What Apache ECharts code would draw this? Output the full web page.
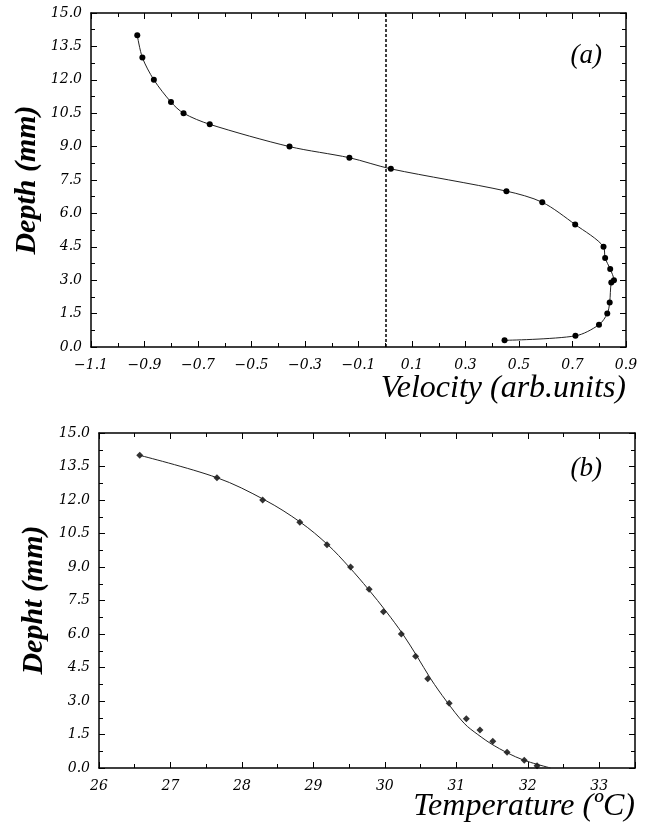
<!DOCTYPE html>
<html>
<head>
<meta charset="utf-8">
<script src="https://cdn.jsdelivr.net/npm/echarts@6/dist/echarts.min.js"></script>
<style>html,body{margin:0;padding:0;background:#fff;}#c{width:653px;height:829px;}</style>
</head>
<body>
<div id="c"></div>
<script>
// ---- Panel (a): velocity profile ----
const velX = [0.446, 0.711, 0.799, 0.830, 0.839, 0.845, 0.855, 0.841, 0.822, 0.816, 0.710, 0.587, 0.453, 0.021, -0.134, -0.358, -0.656, -0.754, -0.801, -0.865, -0.908, -0.927];
const velDepth = [0.3, 0.5, 1.0, 1.5, 2.0, 2.9, 3.0, 3.5, 4.0, 4.5, 5.5, 6.5, 7.0, 8.0, 8.5, 9.0, 10.0, 10.5, 11.0, 12.0, 13.0, 14.0];
const velZeroLine = 0;

// ---- Panel (b): temperature profile ----
const tempX = [26.57, 27.65, 28.29, 28.81, 29.19, 29.52, 29.78, 29.98, 30.23, 30.43, 30.60, 30.90, 31.14, 31.33, 31.51, 31.71, 31.95, 32.13];
const tempDepth = [14, 13, 12, 11, 10, 9, 8, 7, 6, 5, 4, 2.9, 2.2, 1.7, 1.2, 0.7, 0.35, 0.1];
const fitTemp = [26.57, 27.65, 28.32, 28.82, 29.20, 29.50, 29.77, 30.02, 30.25, 30.45, 30.64, 30.86, 31.11, 31.30, 31.53, 31.83, 32.04, 32.32];
const fitDepth = [14, 13, 12, 11, 10, 9, 8, 7, 6, 5, 4, 3, 2, 1.5, 1, 0.5, 0.25, 0];

// ---- Axis settings ----
const velTicks = {min: -1.1, max: 0.9, interval: 0.2};
const tempTicks = {min: 26, max: 33.5, interval: 1};
const depthTicks = {min: 0, max: 15, interval: 1.5};

const labelFont = {fontFamily: 'DejaVu Serif', fontStyle: 'italic', fontSize: 14, color: '#000'};
const axisLineStyle = {show: true, onZero: false, lineStyle: {color: '#000', width: 1.5}};

function xAx(grid, t, pos, showLabel, fmt) {
  return {
    type: 'value', gridIndex: grid, position: pos, min: t.min, max: t.max, interval: t.interval,
    axisLine: axisLineStyle,
    axisTick: {show: true, inside: true, length: 6, lineStyle: {color: '#000', width: 1}},
    minorTick: {show: true, splitNumber: 2, length: 4, lineStyle: {color: '#000', width: 1}},
    splitLine: {show: false},
    axisLabel: Object.assign({show: showLabel, margin: 11, formatter: fmt, showMinLabel: true, showMaxLabel: true}, labelFont)
  };
}
function yAx(grid, t, pos, showLabel) {
  return {
    type: 'value', gridIndex: grid, position: pos, min: t.min, max: t.max, interval: t.interval,
    axisLine: axisLineStyle,
    axisTick: {show: true, inside: true, length: 6, lineStyle: {color: '#000', width: 1}},
    minorTick: {show: true, splitNumber: 2, length: 4, lineStyle: {color: '#000', width: 1}},
    splitLine: {show: false},
    axisLabel: Object.assign({show: showLabel, margin: 9, formatter: v => Number(v).toFixed(1)}, labelFont)
  };
}
const velFmt = v => { const s = Number(v).toFixed(1); return s.replace('-', '\u2212'); };
const tempFmt = v => (Math.abs(v - Math.round(v)) < 1e-6 ? String(Math.round(v)) : '');

const chart = echarts.init(document.getElementById('c'), null, {renderer: 'canvas'});
chart.setOption({
  animation: false,
  backgroundColor: '#fff',
  grid: [
    {left: 91, top: 13, width: 535, height: 334},
    {left: 99, top: 433, width: 536, height: 335}
  ],
  xAxis: [
    xAx(0, velTicks, 'bottom', true, velFmt),
    xAx(0, velTicks, 'top', false, velFmt),
    xAx(1, tempTicks, 'bottom', true, tempFmt),
    xAx(1, tempTicks, 'top', false, tempFmt)
  ],
  yAxis: [
    yAx(0, depthTicks, 'left', true),
    yAx(0, depthTicks, 'right', false),
    yAx(1, depthTicks, 'left', true),
    yAx(1, depthTicks, 'right', false)
  ],
  series: [
    {
      type: 'line', xAxisIndex: 0, yAxisIndex: 0,
      data: velX.map((x, i) => [x, velDepth[i]]),
      smooth: 0.3,
      symbol: 'circle', symbolSize: 6,
      itemStyle: {color: '#000'},
      lineStyle: {color: '#222', width: 1},
      markLine: {
        silent: true, symbol: ['none', 'none'], label: {show: false},
        lineStyle: {color: '#000', width: 1.5, type: [3, 2]},
        data: [{xAxis: velZeroLine}]
      }
    },
    {
      type: 'line', xAxisIndex: 2, yAxisIndex: 2,
      data: fitTemp.map((x, i) => [x, fitDepth[i]]),
      smooth: 0.35, showSymbol: false,
      lineStyle: {color: '#222', width: 1}
    },
    {
      type: 'scatter', xAxisIndex: 2, yAxisIndex: 2,
      data: tempX.map((x, i) => [x, tempDepth[i]]),
      symbol: 'diamond', symbolSize: 7,
      itemStyle: {color: '#000'}
    }
  ],
  graphic: [
    {type: 'text', x: 602, y: 56, style: {text: '(a)', font: 'italic 27px "Liberation Serif"', fill: '#000', align: 'right', verticalAlign: 'middle', textAlign: 'right', textVerticalAlign: 'middle'}},
    {type: 'text', x: 602, y: 469, style: {text: '(b)', font: 'italic 27px "Liberation Serif"', fill: '#000', align: 'right', verticalAlign: 'middle', textAlign: 'right', textVerticalAlign: 'middle'}},
    {type: 'text', x: 626, y: 389, style: {text: 'Velocity (arb.units)', font: 'italic 32px "Liberation Serif"', fill: '#000', align: 'right', verticalAlign: 'middle', textAlign: 'right', textVerticalAlign: 'middle'}},
    {type: 'text', x: 635, y: 807, style: {text: 'Temperature (\u00BAC)', font: 'italic 32px "Liberation Serif"', fill: '#000', align: 'right', verticalAlign: 'middle', textAlign: 'right', textVerticalAlign: 'middle'}},
    {type: 'text', x: 27, y: 180, rotation: Math.PI / 2, style: {text: 'Depth (mm)', font: 'italic bold 30px "Liberation Serif"', fill: '#000', align: 'center', verticalAlign: 'middle', textAlign: 'center', textVerticalAlign: 'middle'}},
    {type: 'text', x: 34, y: 600, rotation: Math.PI / 2, style: {text: 'Depht (mm)', font: 'italic bold 30px "Liberation Serif"', fill: '#000', align: 'center', verticalAlign: 'middle', textAlign: 'center', textVerticalAlign: 'middle'}}
  ]
});
</script>
</body>
</html>
